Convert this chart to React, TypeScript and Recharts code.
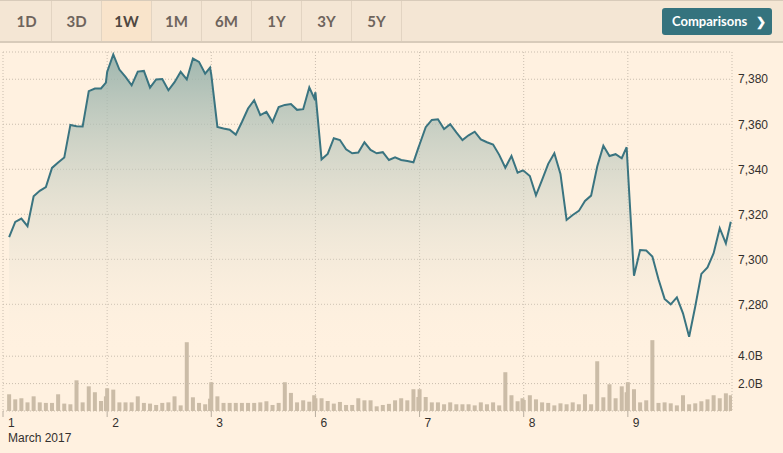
import {
  ComposedChart,
  Area,
  Bar,
  XAxis,
  YAxis,
  CartesianGrid,
  ReferenceLine,
} from 'recharts'

// FTSE 100, 1W view, half-hourly points (slot 0 = open, slot 17 = close)
const DAY_LABELS = ['1', '2', '3', '6', '7', '8', '9']
const FIRST_SLOT = [1, 0, 0, 0, 0, 0, 0]
const SLOTS_PER_DAY = 17

const day1Prices = [7309.9, 7316.6, 7318.1, 7314.7, 7328.0, 7330.4, 7332.1, 7340.6, 7343.0, 7345.2, 7359.7, 7359.1, 7359.0, 7374.7, 7375.9, 7375.9, 7378.5]
const day2Prices = [7383.2, 7391.0, 7384.3, 7381.0, 7377.3, 7383.4, 7383.7, 7376.3, 7379.9, 7380.1, 7375.1, 7378.7, 7383.3, 7379.9, 7389.2, 7387.7, 7382.5, 7385.2]
const day3Prices = [7382.0, 7358.8, 7358.1, 7357.6, 7355.4, 7361.0, 7367.0, 7370.7, 7364.1, 7365.5, 7361.0, 7367.6, 7368.6, 7369.0, 7366.4, 7366.7, 7376.4, 7371.6]
const day6Prices = [7374.2, 7344.4, 7346.8, 7353.8, 7353.0, 7348.9, 7347.1, 7347.4, 7352.0, 7348.6, 7347.1, 7347.6, 7344.1, 7345.3, 7344.1, 7343.7, 7343.1, 7349.5]
const day7Prices = [7351.0, 7358.7, 7361.9, 7362.2, 7357.9, 7360.0, 7356.4, 7353.0, 7355.1, 7356.7, 7353.3, 7352.0, 7351.0, 7346.4, 7340.7, 7345.9, 7338.5, 7339.4]
const day8Prices = [7339.3, 7337.0, 7328.4, 7335.3, 7342.4, 7347.1, 7337.9, 7317.5, 7319.7, 7321.5, 7325.9, 7328.3, 7341.2, 7350.5, 7345.9, 7346.7, 7344.9, 7349.8]
const day9Prices = [7340.0, 7292.7, 7304.1, 7303.9, 7301.2, 7291.1, 7282.4, 7280.0, 7283.1, 7276.0, 7265.6, 7279.0, 7293.5, 7296.4, 7302.7, 7313.8, 7307.1, 7316.7]

// volume in billions
const day1Volumes = [1.22, 0.85, 0.93, 0.63, 1.07, 0.63, 0.59, 0.59, 1.22, 0.54, 0.49, 2.24, 0.63, 1.8, 1.37, 0.73, 1.07]
const day2Volumes = [1.66, 1.56, 0.63, 0.63, 0.63, 1.07, 0.59, 0.54, 0.44, 0.59, 0.63, 1.07, 0.41, 5.02, 1.0, 0.59, 0.49, 0.9]
const day3Volumes = [2.1, 1.07, 0.59, 0.59, 0.59, 0.59, 0.59, 0.59, 0.63, 0.71, 0.44, 0.59, 2.1, 1.32, 0.63, 0.78, 0.68, 1.15]
const day6Volumes = [0.93, 0.93, 0.73, 0.54, 0.66, 0.44, 0.44, 0.93, 0.78, 0.78, 0.34, 0.44, 0.52, 0.78, 0.93, 0.78, 1.59, 1.02]
const day7Volumes = [1.59, 1.02, 0.63, 0.63, 0.49, 0.63, 0.49, 0.49, 0.49, 0.41, 0.63, 0.49, 0.63, 0.41, 2.83, 1.15, 0.71, 0.93]
const day8Volumes = [0.8, 1.15, 0.85, 0.63, 0.59, 0.41, 0.56, 0.49, 0.63, 0.49, 1.22, 0.49, 3.63, 1.0, 1.95, 0.93, 1.8, 1.37]
const day9Volumes = [2.1, 1.59, 0.63, 0.78, 5.17, 0.59, 0.63, 0.56, 0.41, 1.15, 0.49, 0.56, 0.71, 0.85, 1.15, 0.93, 1.29, 1.15]

const PRICE_TICKS = [7280, 7300, 7320, 7340, 7360, 7380]
const VOLUME_TICKS = [2, 4]
const RANGES = ['1D', '3D', '1W', '1M', '6M', '1Y', '3Y', '5Y']

const PRICES = [day1Prices, day2Prices, day3Prices, day6Prices, day7Prices, day8Prices, day9Prices]
const VOLUMES = [day1Volumes, day2Volumes, day3Volumes, day6Volumes, day7Volumes, day8Volumes, day9Volumes]

const data = PRICES.flatMap((prices, d) =>
  prices.map((price, i) => {
    const slot = FIRST_SLOT[d] + i
    // the close print sits just before the next day's open
    const s = slot === SLOTS_PER_DAY ? 16.8 : slot
    return { t: d * SLOTS_PER_DAY + s, price, volume: VOLUMES[d][i] }
  }),
)

const DAY_TICKS = DAY_LABELS.map((_, d) => d * SLOTS_PER_DAY)

const BG = '#fff1e0'
const GRID = '#c9bdae'
const TEXT = '#33302e'
const AXIS_FONT = '"Liberation Sans", Arial, sans-serif'

function DayTick(props: any) {
  const { x, y, payload } = props
  const d = Math.round(payload.value / SLOTS_PER_DAY)
  return (
    <g>
      <line x1={x} y1={y} x2={x} y2={y + 6} stroke="#b8ad9f" />
      <text x={x + 5} y={y + 16} fontSize={12} fill={TEXT} fontFamily={AXIS_FONT}>
        {DAY_LABELS[d]}
      </text>
      {d === 0 && (
        <text x={x + 5} y={y + 31} fontSize={12} fill={TEXT} fontFamily={AXIS_FONT}>
          March 2017
        </text>
      )}
    </g>
  )
}

// fixed-width volume bars centred on each time point
function VolumeBar(props: any) {
  const { x, y, width, height } = props
  if (!height || height <= 0) return null
  return <rect x={x + width / 2 - 2} y={y} width={4} height={height} fill="#cbbca7" />
}

export default function App() {
  return (
    <div
      style={{
        position: 'absolute',
        left: 0,
        top: 0,
        width: 783,
        height: 453,
        background: BG,
        overflow: 'hidden',
      }}
    >
      {/* range tabs */}
      <div
        style={{
          position: 'absolute',
          left: 0,
          top: 0,
          width: 783,
          height: 40,
          background: '#f4e6d4',
          borderTop: '1px solid #d8cbba',
          borderBottom: '2px solid #d8cbba',
        }}
      >
        {RANGES.map((r, i) => (
          <div
            key={r}
            style={{
              position: 'absolute',
              left: 2 + i * 50,
              top: 0,
              width: 50,
              height: 40,
              borderRight: '1px solid #e2d4c2',
              boxSizing: 'border-box',
              background: r === '1W' ? '#f9e4cb' : 'transparent',
              color: r === '1W' ? '#4f4741' : '#6e645c',
              fontFamily: 'Lato, "Open Sans", sans-serif',
              fontWeight: 700,
              fontSize: 15,
              lineHeight: '40px',
              textAlign: 'center',
            }}
          >
            {r}
          </div>
        ))}
        <div
          style={{
            position: 'absolute',
            left: 662,
            top: 7,
            width: 110,
            height: 27,
            borderRadius: 3,
            background: '#35737e',
            color: '#ffffff',
            fontFamily: 'Lato, "Open Sans", sans-serif',
            fontWeight: 700,
            fontSize: 13,
            lineHeight: '27px',
            paddingLeft: 10,
            boxSizing: 'border-box',
          }}
        >
          Comparisons
          <span style={{ position: 'absolute', left: 94, top: 0, fontSize: 12 }}>❯</span>
        </div>
      </div>

      <div style={{ position: 'absolute', left: 0, top: 0 }}>
        <ComposedChart
          width={783}
          height={453}
          data={data}
          margin={{ top: 52, right: 0, bottom: 12, left: 3 }}
        >
          <defs>
            <linearGradient id="priceFill" x1="0" y1="0" x2="0" y2="1">
              <stop offset="0%" stopColor="#95b0a9" stopOpacity={0.9} />
              <stop offset="85%" stopColor={BG} stopOpacity={0} />
            </linearGradient>
          </defs>
          <CartesianGrid
            yAxisId="price"
            stroke={GRID}
            strokeDasharray="1 2"
            vertical
            horizontal
          />
          {VOLUME_TICKS.map((v) => (
            <ReferenceLine
              key={v}
              yAxisId="vol"
              y={v}
              stroke={GRID}
              strokeDasharray="1 2"
              label={{
                value: `${v.toFixed(1)}B`,
                position: 'right',
                offset: 6,
                fontSize: 12,
                fill: TEXT,
                fontFamily: AXIS_FONT,
              }}
            />
          ))}
          <XAxis
            dataKey="t"
            type="number"
            domain={[0, DAY_LABELS.length * SLOTS_PER_DAY]}
            ticks={DAY_TICKS}
            interval={0}
            axisLine={false}
            tickLine={false}
            tickSize={0}
            tickMargin={0}
            height={30}
            tick={<DayTick />}
            allowDataOverflow
          />
          <YAxis yAxisId="vol" hide domain={[0, 26.2]} allowDataOverflow />
          <YAxis
            yAxisId="price"
            orientation="right"
            width={51}
            domain={[7232.6, 7392.1]}
            ticks={PRICE_TICKS}
            tickFormatter={(v: number) => v.toLocaleString('en-US')}
            axisLine={false}
            tickLine={false}
            tickSize={0}
            tickMargin={6}
            tick={{ fontSize: 12, fill: TEXT, fontFamily: AXIS_FONT, textAnchor: 'start' }}
            allowDataOverflow
          />
          <Bar
            yAxisId="vol"
            dataKey="volume"
            shape={<VolumeBar />}
            isAnimationActive={false}
          />
          <Area
            yAxisId="price"
            dataKey="price"
            type="linear"
            stroke="#3a7480"
            strokeWidth={2}
            fill="url(#priceFill)"
            fillOpacity={1}
            baseValue={7232.6}
            dot={false}
            activeDot={false}
            isAnimationActive={false}
          />
        </ComposedChart>
      </div>
    </div>
  )
}
